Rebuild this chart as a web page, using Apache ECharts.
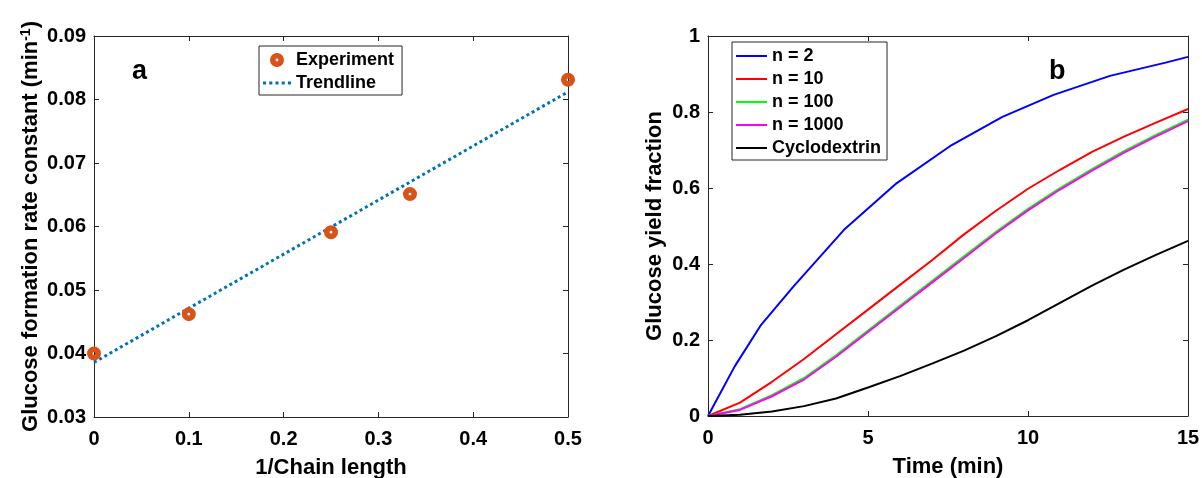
<!DOCTYPE html>
<html>
<head>
<meta charset="utf-8">
<title>Glucose formation</title>
<script src="https://cdn.jsdelivr.net/npm/echarts@6/dist/echarts.min.js"></script>
<style>
  html, body { margin: 0; padding: 0; background: #fff; }
  #chart { width: 1202px; height: 478px; }
</style>
</head>
<body>
<div id="chart"></div>
<script>
// ---- data ----
// panel a
const invChainLength = [0, 0.1, 0.25, 0.3333, 0.5];
const rateConstant = [0.0400, 0.0462, 0.0591, 0.0651, 0.0831];
const trendX = [0, 0.5];
const trendY = [0.0386, 0.0812];

// panel b
const timeMin = [0, 1, 2, 3, 4, 5, 6, 7, 8, 9, 10, 11, 12, 13, 14, 15];
const yieldN10 = [0, 0.035, 0.09, 0.15, 0.215, 0.28, 0.345, 0.41, 0.478, 0.54, 0.598, 0.648, 0.695, 0.735, 0.772, 0.808];
const yieldN100 = [0, 0.018, 0.055, 0.10, 0.16, 0.225, 0.29, 0.355, 0.42, 0.485, 0.545, 0.60, 0.65, 0.697, 0.74, 0.78];
const yieldN1000 = [0, 0.016, 0.052, 0.096, 0.156, 0.221, 0.286, 0.351, 0.416, 0.481, 0.541, 0.596, 0.646, 0.693, 0.736, 0.776];
const yieldCyclo = [0, 0.003, 0.012, 0.026, 0.046, 0.075, 0.105, 0.138, 0.172, 0.21, 0.252, 0.298, 0.343, 0.385, 0.424, 0.461];
// n = 2 is drawn as a coarse polyline in the original
const timeN2 = [0, 0.83, 1.66, 2.66, 4.25, 5.9, 7.56, 9.2, 10.8, 12.56, 14.3, 15];
const yieldN2 = [0, 0.13, 0.24, 0.34, 0.49, 0.613, 0.71, 0.787, 0.845, 0.895, 0.93, 0.945];

const zip = (xs, ys) => xs.map((x, i) => [x, ys[i]]);

// ---- styles ----
const FONT = "'Liberation Sans', Arial, sans-serif";
const AXIS_COLOR = "#262626";
const TEXT_COLOR = "#000";

// thick ring marker with a small hole (outer and inner circle wound opposite ways)
const RING_SYMBOL = "path://M0,7a7,7 0 1,0 14,0a7,7 0 1,0 -14,0Z M5.6,7a1.4,1.4 0 1,1 2.8,0a1.4,1.4 0 1,1 -2.8,0Z";
// legend icons: a thin bar for solid lines, a row of squares for the dotted one
const LINE_ICON = "path://M0,0H31V2H0Z";
const DOT_ICON = "path://M0,0h3v3h-3z M6,0h3v3h-3z M12,0h3v3h-3z M18,0h3v3h-3z M24,0h3v3h-3z";

const tickLabel = (fmt, margin) => ({
  color: TEXT_COLOR,
  fontFamily: FONT,
  fontWeight: "bold",
  fontSize: 20,
  margin: margin,
  formatter: fmt,
});

// one axis (ticks inside, MATLAB look)
function makeAxis(opts) {
  const showLabel = opts.showLabel !== false;
  return {
    type: "value",
    gridIndex: opts.grid,
    position: opts.position,
    min: opts.min,
    max: opts.max,
    interval: opts.interval,
    name: showLabel ? opts.name : "",
    nameLocation: "middle",
    nameGap: opts.nameGap,
    nameTextStyle: opts.nameStyle,
    splitLine: { show: false },
    axisLine: { show: true, onZero: false, lineStyle: { color: AXIS_COLOR, width: 1 } },
    axisTick: { show: true, inside: true, length: 5, lineStyle: { color: AXIS_COLOR } },
    axisLabel: showLabel ? tickLabel(opts.fmt, opts.margin || 8) : { show: false },
  };
}

const titleStyle = {
  color: TEXT_COLOR,
  fontFamily: FONT,
  fontWeight: "bold",
  fontSize: 22,
};

const legendText = { color: TEXT_COLOR, fontFamily: FONT, fontWeight: "bold", fontSize: 18 };

const chart = echarts.init(document.getElementById("chart"), null, { renderer: "canvas" });

const option = {
  animation: false,
  backgroundColor: "#fff",
  // fixed plot boxes: don't let v6 shrink them to fit the axis names
  grid: [
    { left: 94, right: 634, top: 36, bottom: 61, outerBoundsMode: "none" },
    { left: 708, right: 14, top: 36, bottom: 62, outerBoundsMode: "none" },
  ],
  xAxis: [
    makeAxis({ grid: 0, position: "bottom", min: 0, max: 0.5, interval: 0.1,
      name: "1/Chain length", nameGap: 40, nameStyle: titleStyle, margin: 12,
      fmt: (v) => (v === 0 ? "0" : v.toFixed(1)) }),
    makeAxis({ grid: 0, position: "top", min: 0, max: 0.5, interval: 0.1, showLabel: false }),
    makeAxis({ grid: 1, position: "bottom", min: 0, max: 15, interval: 5,
      name: "Time (min)", nameGap: 40, nameStyle: titleStyle, margin: 12,
      fmt: (v) => String(v) }),
    makeAxis({ grid: 1, position: "top", min: 0, max: 15, interval: 5, showLabel: false }),
  ],
  yAxis: [
    makeAxis({ grid: 0, position: "left", min: 0.03, max: 0.09, interval: 0.01,
      name: "{t|Glucose formation rate constant (min}{s|-1}{t|)}", nameGap: 51,
      nameStyle: {
        rich: {
          t: Object.assign({ lineHeight: 24 }, titleStyle),
          s: { color: TEXT_COLOR, fontFamily: FONT, fontWeight: "bold", fontSize: 14,
               lineHeight: 14, verticalAlign: "top" },
        },
      },
      fmt: (v) => v.toFixed(2) }),
    makeAxis({ grid: 0, position: "right", min: 0.03, max: 0.09, interval: 0.01, showLabel: false }),
    makeAxis({ grid: 1, position: "left", min: 0, max: 1, interval: 0.2,
      name: "Glucose yield fraction", nameGap: 42, nameStyle: titleStyle,
      fmt: (v) => (v === 0 || v === 1 ? String(v) : v.toFixed(1)) }),
    makeAxis({ grid: 1, position: "right", min: 0, max: 1, interval: 0.2, showLabel: false }),
  ],
  legend: [
    {
      data: [
        { name: "Experiment", icon: RING_SYMBOL },
        { name: "Trendline", icon: DOT_ICON, itemStyle: { color: "#0072BD" } },
      ],
      orient: "vertical",
      left: 259,
      top: 46,
      padding: [5, 8, 3, 4],
      itemGap: 5,
      itemWidth: 28,
      itemHeight: 14,
      borderColor: AXIS_COLOR,
      borderWidth: 1,
      backgroundColor: "#fff",
      textStyle: legendText,
    },
    {
      data: ["n = 2", "n = 10", "n = 100", "n = 1000", "Cyclodextrin"].map((n) => ({ name: n, icon: LINE_ICON })),
      orient: "vertical",
      left: 732,
      top: 42,
      padding: [5, 6, 3, 4],
      itemGap: 5,
      itemWidth: 31,
      itemHeight: 14,
      borderColor: AXIS_COLOR,
      borderWidth: 1,
      backgroundColor: "#fff",
      textStyle: legendText,
    },
  ],
  graphic: [
    { type: "text", left: 132, top: 58, style: { text: "a", font: "bold 27px " + FONT, fill: "#000" } },
    { type: "text", left: 1049, top: 58, style: { text: "b", font: "bold 27px " + FONT, fill: "#000" } },
  ],
  series: [
    {
      name: "Trendline",
      type: "line",
      xAxisIndex: 0,
      yAxisIndex: 0,
      data: zip(trendX, trendY),
      symbol: "none",
      lineStyle: { color: "#0072BD", width: 3, type: [3, 3] },
      itemStyle: { color: "#0072BD" },
      z: 2,
    },
    {
      name: "Experiment",
      type: "scatter",
      xAxisIndex: 0,
      yAxisIndex: 0,
      data: zip(invChainLength, rateConstant),
      symbol: RING_SYMBOL,
      symbolSize: 14,
      clip: false,
      itemStyle: { color: "#D95319", opacity: 1 },
      z: 3,
    },
    {
      name: "n = 2",
      type: "line",
      xAxisIndex: 2,
      yAxisIndex: 2,
      data: zip(timeN2, yieldN2),
      symbol: "none",
      lineStyle: { color: "#0000FF", width: 2 },
      itemStyle: { color: "#0000FF" },
    },
    {
      name: "n = 10",
      type: "line",
      xAxisIndex: 2,
      yAxisIndex: 2,
      data: zip(timeMin, yieldN10),
      symbol: "none",
      lineStyle: { color: "#FF0000", width: 2 },
      itemStyle: { color: "#FF0000" },
    },
    {
      name: "n = 100",
      type: "line",
      xAxisIndex: 2,
      yAxisIndex: 2,
      data: zip(timeMin, yieldN100),
      symbol: "none",
      lineStyle: { color: "#00FF00", width: 2 },
      itemStyle: { color: "#00FF00" },
    },
    {
      name: "n = 1000",
      type: "line",
      xAxisIndex: 2,
      yAxisIndex: 2,
      data: zip(timeMin, yieldN1000),
      symbol: "none",
      lineStyle: { color: "#FF00FF", width: 2 },
      itemStyle: { color: "#FF00FF" },
    },
    {
      name: "Cyclodextrin",
      type: "line",
      xAxisIndex: 2,
      yAxisIndex: 2,
      data: zip(timeMin, yieldCyclo),
      symbol: "none",
      lineStyle: { color: "#000000", width: 2 },
      itemStyle: { color: "#000000" },
    },
  ],
};

chart.setOption(option);
</script>
</body>
</html>
